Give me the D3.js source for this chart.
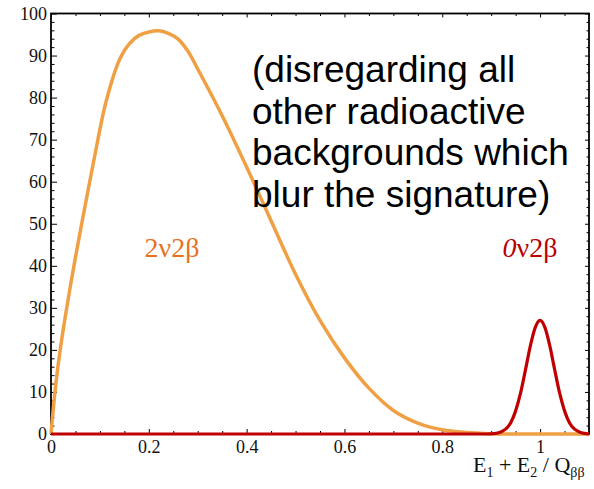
<!DOCTYPE html>
<html>
<head>
<meta charset="utf-8">
<script src="https://cdn.jsdelivr.net/npm/d3@7"></script>
<style>
  body { margin: 0; background: #fff; }
  svg { display: block; }
</style>
</head>
<body>
<div class="board"></div>
<script>
// values
var xMajor = [0, 0.2, 0.4, 0.6, 0.8, 1];
var yMajor = [0, 10, 20, 30, 40, 50, 60, 70, 80, 90, 100];

// 2nu2beta continuum
var twoNuX = [0, 0.01, 0.02, 0.035, 0.05, 0.075, 0.095, 0.1125, 0.14, 0.16, 0.18, 0.2, 0.22,
              0.24, 0.26, 0.28, 0.3, 0.35, 0.4, 0.45, 0.5, 0.55, 0.6, 0.65, 0.7,
              0.75, 0.8, 0.85, 0.9, 0.95, 1.0, 1.05, 1.1];
var twoNuY = [0, 12, 21, 32, 42, 57.5, 69.5, 79, 89, 92.8, 94.8, 95.6, 95.9,
              95.3, 93.9, 91.0, 86.8, 75.7, 63.5, 50.7, 38.0, 27.0, 18.1, 10.9, 5.6,
              2.6, 1.0, 0.35, 0.08, 0.01, 0, 0, 0];

// 0nu2beta peak
var zeroNuX = [0, 0.88, 0.9, 0.91, 0.92, 0.93, 0.94, 0.95, 0.96, 0.97, 0.98, 0.99, 1.0,
               1.01, 1.02, 1.03, 1.04, 1.05, 1.06, 1.07, 1.08, 1.09, 1.1];
var zeroNuY = [0, 0, 0.04, 0.15, 0.5, 1.2, 2.7, 5.5, 9.7, 15.2, 20.9, 25.3, 27,
               25.3, 20.9, 15.2, 9.7, 5.5, 2.7, 1.2, 0.5, 0.15, 0.04];

var width = 594, height = 489;
// plot frame (don't call it "top", that's window.top)
var padL = 51, padR = 589, padT = 13.5, padB = 434;

var svg = d3.select(".board").append("svg")
            .attr("width", width)
            .attr("height", height);

var x = d3.scaleLinear().domain([0, 1.1]).range([padL, padR]);
var y = d3.scaleLinear().domain([0, 100]).range([padB, padT]);

var xMinor = d3.range(0, 1.1001, 0.05).filter(function(d) {
  return Math.abs(d / 0.2 - Math.round(d / 0.2)) > 1e-6;
});
var yMinor = d3.range(0, 100.001, 2).filter(function(d) { return d % 10 !== 0; });

var serif = "'Liberation Serif', 'DejaVu Serif', serif";

function styleAxis(g) {
  g.select(".domain").remove();
  g.selectAll("line").attr("stroke", "#000").attr("stroke-width", 1);
  g.selectAll("text").attr("font-family", serif).attr("font-size", 18).attr("fill", "#111");
}

// bottom
svg.append("g").attr("transform", "translate(0," + padB + ")")
   .call(d3.axisBottom(x).tickValues(xMajor).tickSize(-5).tickPadding(6).tickFormat(d3.format("~g")))
   .call(styleAxis);
svg.append("g").attr("transform", "translate(0," + padB + ")")
   .call(d3.axisBottom(x).tickValues(xMinor).tickSize(-3).tickFormat(""))
   .call(styleAxis);
// top
svg.append("g").attr("transform", "translate(0," + padT + ")")
   .call(d3.axisTop(x).tickValues(xMajor).tickSize(-4).tickFormat(""))
   .call(styleAxis);
svg.append("g").attr("transform", "translate(0," + padT + ")")
   .call(d3.axisTop(x).tickValues(xMinor).tickSize(-2.5).tickFormat(""))
   .call(styleAxis);
// left
svg.append("g").attr("transform", "translate(" + padL + ",0)")
   .call(d3.axisLeft(y).tickValues(yMajor).tickSize(-6).tickPadding(4))
   .call(styleAxis);
svg.append("g").attr("transform", "translate(" + padL + ",0)")
   .call(d3.axisLeft(y).tickValues(yMinor).tickSize(-3.5).tickFormat(""))
   .call(styleAxis);
// right
svg.append("g").attr("transform", "translate(" + padR + ",0)")
   .call(d3.axisRight(y).tickValues(yMajor).tickSize(-4).tickFormat(""))
   .call(styleAxis);
svg.append("g").attr("transform", "translate(" + padR + ",0)")
   .call(d3.axisRight(y).tickValues(yMinor).tickSize(-2.5).tickFormat(""))
   .call(styleAxis);

// frame
svg.append("rect")
   .attr("x", padL).attr("y", padT)
   .attr("width", padR - padL).attr("height", padB - padT)
   .attr("fill", "none").attr("stroke", "#000").attr("stroke-width", 1.8);

// curves
function lineWith(curve) {
  return d3.line()
           .x(function(d) { return x(d[0]); })
           .y(function(d) { return y(d[1]); })
           .curve(curve);
}

svg.append("path")
   .datum(d3.zip(twoNuX, twoNuY))
   .attr("d", lineWith(d3.curveCatmullRom.alpha(0.5)))
   .attr("fill", "none")
   .attr("stroke", "#f0a044")
   .attr("stroke-width", 3.5)
   .attr("stroke-linejoin", "round");

svg.append("path")
   .datum(d3.zip(zeroNuX, zeroNuY))
   .attr("d", lineWith(d3.curveMonotoneX))
   .attr("fill", "none")
   .attr("stroke", "#c00000")
   .attr("stroke-width", 3.2)
   .attr("stroke-linejoin", "round");

// labels
svg.append("text")
   .attr("x", 172).attr("y", 257)
   .attr("text-anchor", "middle")
   .attr("font-family", serif).attr("font-size", 28)
   .attr("fill", "#e8701e")
   .text("2ν2β");

var zl = svg.append("text")
   .attr("x", 530).attr("y", 257)
   .attr("text-anchor", "middle")
   .attr("font-family", serif).attr("font-size", 28)
   .attr("fill", "#b80000");
zl.append("tspan").attr("font-style", "italic").text("0");
zl.append("tspan").text("ν2β");

// axis title
var t = svg.append("text")
   .attr("x", 473).attr("y", 472)
   .attr("font-family", serif).attr("font-size", 22)
   .attr("fill", "#111");
t.append("tspan").text("E");
t.append("tspan").attr("font-size", 14).attr("dy", 5).text("1");
t.append("tspan").attr("dy", -5).text(" + E");
t.append("tspan").attr("font-size", 14).attr("dy", 5).text("2");
t.append("tspan").attr("dy", -5).text(" / Q");
t.append("tspan").attr("font-size", 14).attr("dy", 5).text("ββ");

// note
var note = ["(disregarding all", "other radioactive", "backgrounds which", "blur the signature)"];
svg.append("g").selectAll("text")
   .data(note)
   .enter()
   .append("text")
   .attr("x", 252)
   .attr("y", function(d, i) { return 82 + i * 41.6; })
   .attr("font-family", "'Liberation Sans', Arial, sans-serif")
   .attr("font-size", 37)
   .attr("fill", "#000")
   .text(function(d) { return d; });
</script>
</body>
</html>
